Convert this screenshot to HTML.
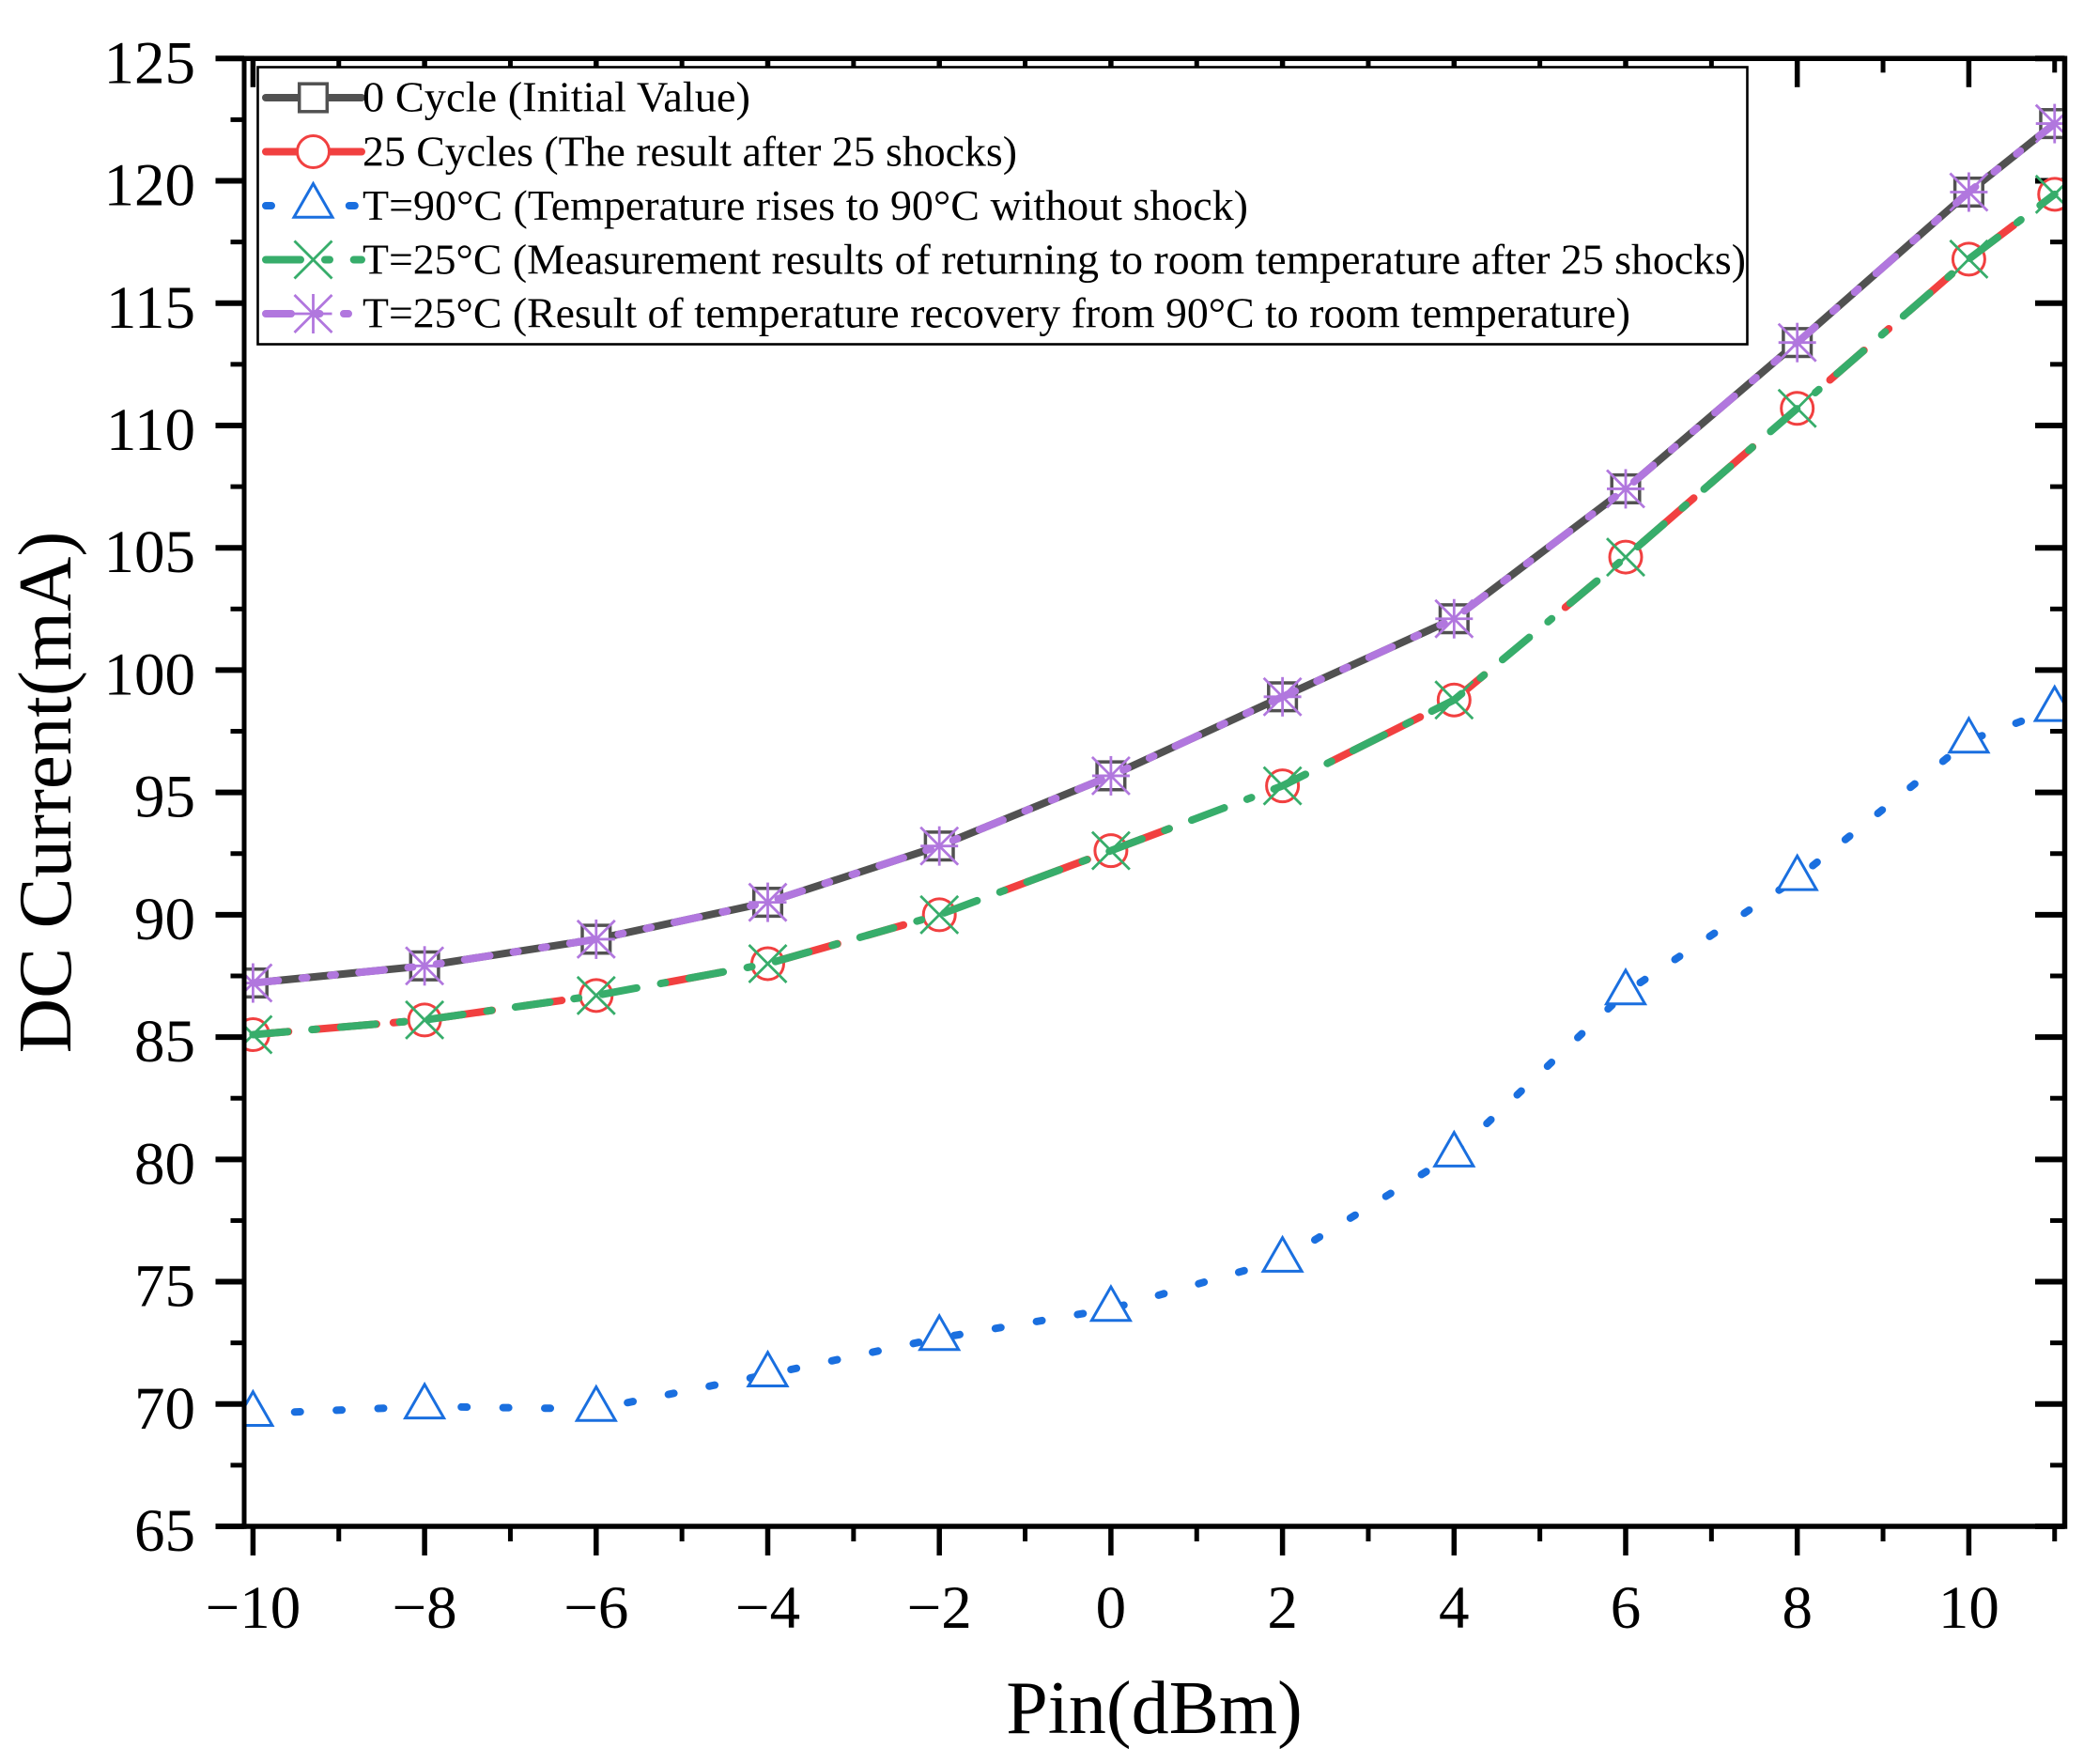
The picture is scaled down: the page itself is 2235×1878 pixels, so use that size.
<!DOCTYPE html>
<html lang="en">
<head>
<meta charset="utf-8">
<title>DC Current vs Pin</title>
<style>
  html, body { margin: 0; padding: 0; background: #fff; }
  svg { display: block; font-family: "Liberation Serif", "Times New Roman", serif; }
</style>
</head>
<body>
<svg id="chart" xmlns="http://www.w3.org/2000/svg" width="2235" height="1878" viewBox="0 0 2235 1878">
  <defs>
    <clipPath id="plot-clip"><rect x="262.5" y="65" width="1933.5" height="1557.5"></rect></clipPath>
  </defs>
  <rect x="0" y="0" width="2235" height="1878" fill="#ffffff"></rect>
  <g id="axes"></g>
  <g id="series" clip-path="url(#plot-clip)"></g>
  <text x="1229" y="1845" font-size="80" text-anchor="middle">Pin(dBm)</text>
  <text transform="translate(75,843.5) rotate(-90)" font-size="81" text-anchor="middle">DC Current(mA)</text>
  <g id="legend">
    <rect x="274.5" y="71.5" width="1586" height="295" fill="#ffffff" stroke="#000000" stroke-width="2.6"></rect>
    <g id="legend-keys"></g>
    <text x="386" y="118.3" font-size="45" textLength="413" lengthAdjust="spacingAndGlyphs">0 Cycle (Initial Value)</text>
    <text x="386" y="176.7" font-size="45" textLength="697" lengthAdjust="spacingAndGlyphs">25 Cycles (The result after 25 shocks)</text>
    <text x="386" y="234" font-size="45" textLength="943" lengthAdjust="spacingAndGlyphs">T=90°C (Temperature rises to 90°C without shock)</text>
    <text x="386" y="291.7" font-size="45" textLength="1473" lengthAdjust="spacingAndGlyphs">T=25°C (Measurement results of returning to room temperature after 25 shocks)</text>
    <text x="386" y="348.3" font-size="45" textLength="1350" lengthAdjust="spacingAndGlyphs">T=25°C (Result of temperature recovery from 90°C to room temperature)</text>
  </g>
</svg>
<script>
const pinValues = [-10, -8, -6, -4, -2, 0, 2, 4, 6, 8, 10, 11];
const cycle0Values = [87.21, 87.91, 89.0, 90.51, 92.81, 95.68, 98.91, 102.1, 107.41, 113.39, 119.54, 122.34];
const cycle25Values = [85.1, 85.7, 86.7, 88.0, 90.0, 92.62, 95.27, 98.78, 104.62, 110.7, 116.8, 119.45];
const hot90Values = [69.6, 69.9, 69.8, 71.21, 72.7, 73.89, 75.9, 80.2, 86.83, 91.5, 97.12, 98.41];
const room25ShockValues = [85.1, 85.7, 86.7, 88.0, 90.0, 92.62, 95.27, 98.78, 104.62, 110.7, 116.8, 119.45];
const room25RecoveryValues = [87.21, 87.91, 89.0, 90.51, 92.81, 95.68, 98.91, 102.1, 107.41, 113.39, 119.54, 122.34];
const xMajorTicks = [-10, -8, -6, -4, -2, 0, 2, 4, 6, 8, 10];
const xMinorTicks = [-9, -7, -5, -3, -1, 1, 3, 5, 7, 9, 11];
const yMajorTicks = [65, 70, 75, 80, 85, 90, 95, 100, 105, 110, 115, 120, 125];
const yMinorTicks = [67.5, 72.5, 77.5, 82.5, 87.5, 92.5, 97.5, 102.5, 107.5, 112.5, 117.5, 122.5];

const SVG_NS = 'http://www.w3.org/2000/svg';
const plot = { left: 260, right: 2198.5, top: 62.3, bottom: 1625 };
function xPos(v) { return 269.4 + (v + 10) * (2187.75 - 269.4) / 21; }
function yPos(v) { return 1625 - (v - 65) * (1625 - 62.3) / 60; }

function drawLine(parent, name, x1, y1, x2, y2, color, width, cap) {
  const el = document.createElementNS(SVG_NS, 'line');
  
  
  el.setAttribute('x1', x1);
  el.setAttribute('y1', y1);
  el.setAttribute('x2', x2);
  el.setAttribute('y2', y2);
  el.setAttribute('stroke', color);
  el.setAttribute('stroke-width', width);
  if (cap) el.setAttribute('stroke-linecap', cap);
  parent.appendChild(el);
  return el;
}

function drawLabel(parent, name, x, y, str, anchor) {
  const el = document.createElementNS(SVG_NS, 'text');
  
  
  el.setAttribute('x', x);
  el.setAttribute('y', y);
  el.setAttribute('font-size', '65');
  el.setAttribute('text-anchor', anchor);
  el.textContent = String(str).replace('-', '\u2212');
  parent.appendChild(el);
}

function drawAxes() {
  const g = document.getElementById('axes');
  xMajorTicks.forEach(function (v) {
    drawLine(g, 'x-major-tick', xPos(v), plot.bottom, xPos(v), plot.bottom + 31, '#000', 5.5);
    drawLine(g, 'x-top-major-tick', xPos(v), plot.top, xPos(v), plot.top + 30.5, '#000', 5.5);
    drawLabel(g, 'x-tick-label', xPos(v), 1733, v, 'middle');
  });
  xMinorTicks.forEach(function (v) {
    drawLine(g, 'x-minor-tick', xPos(v), plot.bottom, xPos(v), plot.bottom + 16, '#000', 5);
    drawLine(g, 'x-top-minor-tick', xPos(v), plot.top, xPos(v), plot.top + 15, '#000', 5);
  });
  yMajorTicks.forEach(function (v) {
    drawLine(g, 'y-major-tick', 229.5, yPos(v), plot.left, yPos(v), '#000', 6);
    drawLine(g, 'y-right-major-tick', 2167, yPos(v), plot.right, yPos(v), '#000', 6);
    drawLabel(g, 'y-tick-label', 208, yPos(v) + 26, v, 'end');
  });
  yMinorTicks.forEach(function (v) {
    drawLine(g, 'y-minor-tick', 245.5, yPos(v), plot.left, yPos(v), '#000', 5);
    drawLine(g, 'y-right-minor-tick', 2183, yPos(v), plot.right, yPos(v), '#000', 5);
  });
  drawLine(g, 'left-spine', plot.left, plot.top - 2.5, plot.left, plot.bottom + 2.8, '#000', 5);
  drawLine(g, 'right-spine', plot.right, plot.top - 2.8, plot.right, plot.bottom + 2.8, '#000', 5.5);
  drawLine(g, 'top-spine', plot.left, plot.top, plot.right, plot.top, '#000', 5.5);
  drawLine(g, 'bottom-spine', plot.left, plot.bottom, plot.right, plot.bottom, '#000', 5.5);
}

function drawPolyline(parent, name, points, style) {
  const el = document.createElementNS(SVG_NS, 'polyline');
  
  
  el.setAttribute('points', points);
  el.setAttribute('fill', 'none');
  el.setAttribute('stroke', style.color);
  el.setAttribute('stroke-width', '8');
  el.setAttribute('stroke-linecap', 'round');
  el.setAttribute('stroke-linejoin', 'round');
  if (style.dash) el.setAttribute('stroke-dasharray', style.dash);
  parent.appendChild(el);
}

function drawMarker(parent, kind, x, y, color) {
  if (kind === 'square') {
    const el = document.createElementNS(SVG_NS, 'rect');
    
    
    el.setAttribute('x', x - 14.8);
    el.setAttribute('y', y - 14.8);
    el.setAttribute('width', 29.6);
    el.setAttribute('height', 29.6);
    el.setAttribute('fill', '#ffffff');
    el.setAttribute('stroke', color);
    el.setAttribute('stroke-width', '3.5');
    parent.appendChild(el);
  } else if (kind === 'circle') {
    const el = document.createElementNS(SVG_NS, 'circle');
    
    
    el.setAttribute('cx', x);
    el.setAttribute('cy', y);
    el.setAttribute('r', 17);
    el.setAttribute('fill', '#ffffff');
    el.setAttribute('stroke', color);
    el.setAttribute('stroke-width', '3');
    parent.appendChild(el);
  } else if (kind === 'triangle') {
    const el = document.createElementNS(SVG_NS, 'polygon');
    
    
    el.setAttribute('points', x + ',' + (y - 23.5) + ' ' + (x + 20.5) + ',' + (y + 12.3) + ' ' + (x - 20.5) + ',' + (y + 12.3));
    el.setAttribute('fill', '#ffffff');
    el.setAttribute('stroke', color);
    el.setAttribute('stroke-width', '3');
    el.setAttribute('stroke-linejoin', 'miter');
    parent.appendChild(el);
  } else if (kind === 'cross') {
    drawLine(parent, 'cross-marker-arm', x - 20, y - 20, x + 20, y + 20, color, 2.8);
    drawLine(parent, 'cross-marker-arm', x - 20, y + 20, x + 20, y - 20, color, 2.8);
  } else if (kind === 'star') {
    drawLine(parent, 'star-marker-arm', x - 20, y - 20, x + 20, y + 20, color, 2.8);
    drawLine(parent, 'star-marker-arm', x - 20, y + 20, x + 20, y - 20, color, 2.8);
    drawLine(parent, 'star-marker-arm', x, y - 21, x, y + 21, color, 2.8);
    drawLine(parent, 'star-marker-arm', x - 20, y, x + 20, y, color, 2.8);
  }
}

const redDash = '38 28 66 18 12 30 64 34 41 112 62 65 61 33 40 114 94 33 60 187 106 22 60 112.5 42.5 65 72 23 60 109 48 29 6 28 61 34 50 200';
const seriesStyles = [
  { key: 'cycle-0', color: '#515151', dash: '', marker: 'square', values: cycle0Values },
  { key: 'cycle-25', color: '#f14040', dash: redDash, marker: 'circle', values: cycle25Values },
  { key: 'hot-90', color: '#1a6fdf', dash: '6 38.4', marker: 'triangle', values: hot90Values },
  { key: 'room-25-shock', color: '#37ad6b', dash: '37 26 5 25.7', marker: 'cross', values: room25ShockValues },
  { key: 'room-25-recovery', color: '#b177de', dash: '27 25.5 5 25.5 5 25.4', marker: 'star', values: room25RecoveryValues }
];

function drawSeries() {
  const host = document.getElementById('series');
  seriesStyles.forEach(function (s) {
    const g = document.createElementNS(SVG_NS, 'g');
    
    
    host.appendChild(g);
    const pts = s.values.map(function (v, i) { return xPos(pinValues[i]) + ',' + yPos(v); }).join(' ');
    drawPolyline(g, 'line-' + s.key, pts, s);
    s.values.forEach(function (v, i) {
      drawMarker(g, s.marker, xPos(pinValues[i]), yPos(v), s.color);
    });
  });
}

function drawLegendKeys() {
  const host = document.getElementById('legend-keys');
  seriesStyles.forEach(function (s, i) {
    const y = 104 + i * 57.5;
    const g = document.createElementNS(SVG_NS, 'g');
    
    
    host.appendChild(g);
    drawPolyline(g, 'legend-line-' + s.key, '283,' + y + ' 385,' + y, s);
    drawMarker(g, s.marker, 333.5, y, s.color);
  });
}

drawAxes();
drawSeries();
drawLegendKeys();
</script>
</body>
</html>
